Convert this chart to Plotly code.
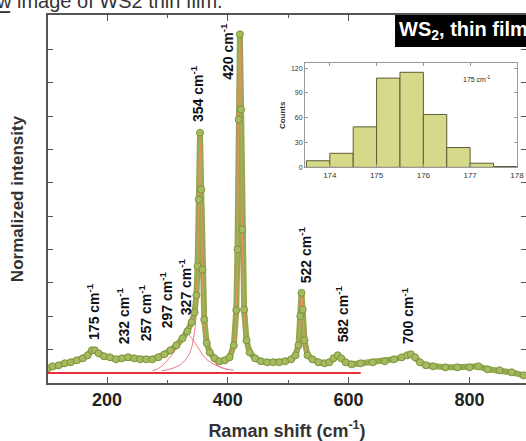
import plotly.graph_objects as go

# ---------------- data ----------------
raman_shift = [102, 110, 120, 130, 140, 150, 160, 168, 175, 180, 186, 195, 205, 215, 225, 235, 245, 255,
               265, 275, 285, 295, 305, 315, 325, 333, 340, 345, 348, 350, 352, 354, 356, 358, 361, 365,
               370, 378, 386, 395, 403, 410, 414, 416, 418, 420, 422, 424, 427, 431, 436, 445, 455, 465,
               475, 485, 495, 505, 512, 517, 520, 522, 524, 527, 532, 540, 550, 560, 568, 575, 582, 588,
               595, 605, 620, 640, 660, 675, 688, 697, 703, 710, 718, 728, 740, 760, 780, 800, 815, 830,
               850, 870, 890]
intensity = [0.044, 0.050, 0.053, 0.059, 0.062, 0.068, 0.074, 0.083, 0.098, 0.098, 0.089, 0.080, 0.077,
             0.071, 0.074, 0.077, 0.074, 0.071, 0.071, 0.071, 0.077, 0.086, 0.098, 0.113, 0.134, 0.155,
             0.182, 0.212, 0.263, 0.35, 0.55, 0.75, 0.58, 0.34, 0.19, 0.12, 0.092, 0.074, 0.065, 0.068,
             0.077, 0.113, 0.218, 0.40, 0.79, 1.045, 0.82, 0.46, 0.22, 0.128, 0.092, 0.074, 0.065, 0.062,
             0.062, 0.062, 0.065, 0.071, 0.083, 0.113, 0.20, 0.27, 0.22, 0.128, 0.083, 0.071, 0.062, 0.059,
             0.062, 0.074, 0.083, 0.074, 0.062, 0.056, 0.059, 0.062, 0.065, 0.071, 0.077, 0.083, 0.086,
             0.077, 0.062, 0.053, 0.050, 0.047, 0.047, 0.047, 0.050, 0.041, 0.038, 0.032, 0.023]

fit_end = 620          # cumulative fit range end (cm-1)
baseline_x = [102, 620]
baseline_y = [0.030, 0.030]

comp327_x = [275, 288, 304, 321, 331, 346, 363, 380, 400]
comp327_y = [0.036, 0.047, 0.077, 0.119, 0.149, 0.119, 0.074, 0.053, 0.040]
comp354_x = [290, 310, 325, 338, 346, 350, 354, 358, 362, 370, 385, 410]
comp354_y = [0.036, 0.045, 0.060, 0.095, 0.17, 0.33, 0.74, 0.33, 0.17, 0.085, 0.050, 0.038]

peak_labels = ["175", "232", "257", "297", "327", "354", "420", "522", "582", "700"]
label_x = [176.8, 226.5, 262.9, 297.7, 329.0, 349.0, 398.7, 527.8, 589.0, 698.0]
label_y = [0.213, 0.200, 0.209, 0.248, 0.290, 0.866, 0.993, 0.383, 0.209, 0.203]

hist_bin_centers = [173.75, 174.25, 174.75, 175.25, 175.75, 176.25, 176.75, 177.25, 177.75]
hist_counts = [8, 17, 49, 108, 115, 64, 24, 5, 1]
hist_ticks = [174, 175, 176, 177, 178]
hist_yticks = [0, 30, 60, 90, 120]

FONT = "Liberation Sans"
GREEN = "#93aa4e"

fig = go.Figure()

# baseline and fit components
fig.add_trace(go.Scatter(x=baseline_x, y=baseline_y, mode="lines",
                         line=dict(color="#e8303a", width=2), hoverinfo="skip"))
fig.add_trace(go.Scatter(x=comp327_x, y=comp327_y, mode="lines", line_shape="spline",
                         line=dict(color="#f07a86", width=1), hoverinfo="skip"))
fig.add_trace(go.Scatter(x=comp354_x, y=comp354_y, mode="lines", line_shape="spline",
                         line=dict(color="#f07a86", width=1), hoverinfo="skip"))

# measured spectrum band
fig.add_trace(go.Scatter(x=raman_shift, y=intensity, mode="lines",
                         line=dict(color=GREEN, width=6), hoverinfo="skip"))
# cumulative fit
fx = [x for x in raman_shift if x <= fit_end]
fy = [y for x, y in zip(raman_shift, intensity) if x <= fit_end]
fig.add_trace(go.Scatter(x=fx, y=fy, mode="lines", line_shape="spline",
                         line=dict(color="#e8906a", width=1.3), hoverinfo="skip"))
# markers
fig.add_trace(go.Scatter(x=raman_shift, y=intensity, mode="markers",
                         marker=dict(size=7, color="#a6ba62", line=dict(color="#7c9539", width=1)),
                         hoverinfo="skip"))

# inset histogram
fig.add_trace(go.Bar(x=hist_bin_centers, y=hist_counts, width=0.5, xaxis="x2", yaxis="y2",
                     marker=dict(color="#d6d98a", line=dict(color="#5d5d34", width=1)),
                     hoverinfo="skip"))

# peak labels
for lab, lx, ly in zip(peak_labels, label_x, label_y):
    fig.add_annotation(x=lx, y=ly, xref="x", yref="y", text=f"{lab} cm<sup>-1</sup>",
                       textangle=-90, showarrow=False, xanchor="center", yanchor="middle",
                       font=dict(family=FONT, size=14, color="#111", weight="bold"))

# WS2 box
fig.add_shape(type="rect", xref="paper", yref="paper", x0=0.726, x1=1.05, y0=0.913, y1=1.0,
              fillcolor="black", line=dict(width=0), layer="above")
fig.add_annotation(xref="paper", yref="paper", x=0.730, y=0.957, xanchor="left", yanchor="middle",
                   text="WS<sub>2</sub>, thin film", showarrow=False,
                   font=dict(family=FONT, size=20, color="white", weight="bold"))

# clipped caption at top
fig.add_annotation(xref="paper", yref="paper", x=(225 - 48) / 478, y=1.037, xanchor="right",
                   yanchor="middle", text="w image of WS2 thin film.", showarrow=False,
                   font=dict(family=FONT, size=20, color="#333"))
fig.add_shape(type="line", xref="paper", yref="paper", x0=-0.11, x1=-0.079, y0=1.008, y1=1.008,
              line=dict(color="black", width=1.5))

# inset labels
fig.add_annotation(xref="paper", yref="paper", x=0.931, y=0.842, text="175 cm<sup>-1</sup>",
                   showarrow=False, font=dict(family=FONT, size=7, color="#222"))

fig.update_layout(
    width=526, height=441,
    margin=dict(l=48, r=0, t=15, b=58, autoexpand=False),
    paper_bgcolor="white", plot_bgcolor="white",
    showlegend=False,
    xaxis=dict(range=[102.3, 893.7], tickvals=[200, 400, 600, 800], ticks="inside", ticklen=6,
               minor=dict(dtick=100, tick0=0, ticks="inside", ticklen=3, tickcolor="#555"),
               showline=True, linecolor="#555", linewidth=1.5, mirror="allticks",
               tickcolor="#555", showgrid=False, zeroline=False,
               tickfont=dict(family=FONT, size=18, color="#222", weight="bold"),
               title=dict(text="Raman shift (cm<sup>-1</sup>)", standoff=18,
                          font=dict(family=FONT, size=18, color="#333", weight="bold"))),
    yaxis=dict(range=[0, 1.103], dtick=0.1, tick0=0, ticks="inside", ticklen=5, showticklabels=False,
               showline=True, linecolor="#555", linewidth=1.5, mirror="allticks",
               tickcolor="#555", showgrid=False, zeroline=False,
               title=dict(text="Normalized intensity", standoff=18,
                          font=dict(family=FONT, size=17, color="#333", weight="bold"))),
    xaxis2=dict(domain=[0.5377, 0.981], anchor="y2", range=[173.47, 178.0], tickvals=hist_ticks,
                ticks="inside", ticklen=3, showline=True, linecolor="#999", linewidth=1,
                mirror="ticks", tickcolor="#999", showgrid=False, zeroline=False,
                tickfont=dict(family=FONT, size=8, color="#333")),
    yaxis2=dict(domain=[0.586, 0.869], anchor="x2", range=[0, 126], tickvals=hist_yticks,
                ticks="inside", ticklen=3, showline=True, linecolor="#999", linewidth=1,
                mirror="ticks", tickcolor="#999", showgrid=False, zeroline=False,
                tickfont=dict(family=FONT, size=7, color="#333"),
                title=dict(text="Counts", standoff=4,
                           font=dict(family=FONT, size=8, color="#333", weight="bold"))),
)

fig.write_html("out.html", config={"displayModeBar": False},
               post_script="document.body.style.margin='0';")
